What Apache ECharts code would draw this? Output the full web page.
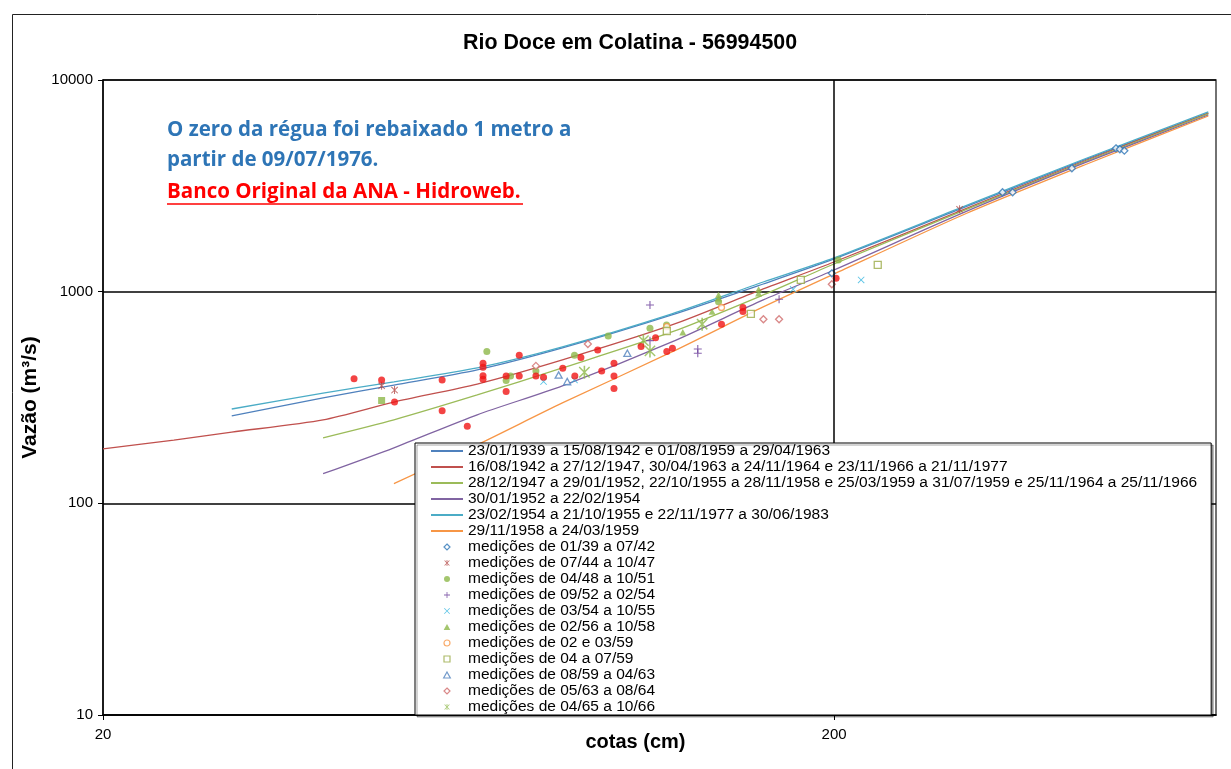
<!DOCTYPE html>
<html>
<head>
<meta charset="utf-8">
<title>Rio Doce em Colatina - 56994500</title>
<script src="https://cdn.jsdelivr.net/npm/echarts@6/dist/echarts.min.js"></script>
<style>
html, body { margin: 0; padding: 0; background: #fff; }
#chart { width: 1231px; height: 769px; }
</style>
</head>
<body>
<div id="chart"></div>
<script>
// curvas-chave: [cota (cm), vazão (m3/s)]
var curva1939 = [[30,259],[40,315],[50,362],[65,427],[85,542],[120,776],[160,1087],[200,1427],[300,2486],[440,4190],[650,6980]];
var curva1942 = [[20,181],[25,199],[30,217],[40,248],[50,301],[65,366],[85,476],[120,696],[160,1030],[200,1381],[300,2432],[440,4143],[650,6980]];
var curva1947 = [[40,204],[50,248],[65,325],[85,436],[120,645],[160,965],[200,1351],[300,2406],[440,4100],[650,6910]];
var curva1952 = [[40,138],[50,183],[65,262],[85,359],[120,579],[160,914],[200,1266],[300,2354],[440,4055],[650,6833]];
var curva1954 = [[30,279],[40,332],[50,375],[65,436],[85,548],[120,785],[160,1111],[200,1443],[300,2513],[440,4235],[650,7062]];
var curva1958 = [[50,124],[65,189],[85,298],[120,519],[160,847],[200,1212],[300,2303],[440,3967],[650,6761]];

// medições
var med3942 = [[198.6,1221],[340,2948],[351,2948],[423,3827],[486,4757],[492,4706],[499,4635]];
var med4447 = [[48.1,359],[50.1,343],[297,2451]];
var med4851 = [[67,521],[72.2,400],[71.2,380],[78.2,422],[88.3,501],[98.2,618],[112,672],[118,696],[139,897],[202.7,1411],{value:[48.1,306], symbol:'rect'}];
var med5254 = [[112,865],[112,587],[130.2,536],[130.2,512],[168.2,921]];
var med5455 = [[80.1,376],[88.3,383],[175.8,1026],[217.8,1136]];
var med5658 = [[124.2,643],[136.2,805],[139,965],[139,931],[157.7,1026],[157.7,983]];
var med0359 = [[118.1,683],[140.3,842]];
var med0759 = [[118.1,652],[153.9,785],[229.5,1337],[180.1,1136]];
var med5963 = [[84,404],[86.3,376],[104.3,512]];
var med6364 = [[78.2,446],[92.1,566],[160.1,741],[168.2,741],[198.6,1084]];
var med6566 = [[91.1,416],[109.7,587],[112,525],[132,702]];
var medOutras = [[44.1,388],[48.1,383],[50.1,301],[58.2,383],[58.2,274],[63,231],[66.2,459],[66.2,440],[66.2,401],[66.2,386],[74.2,501],[71.2,400],[71.2,338],[74.2,400],[78.2,400],[80.1,394],[85.1,435],[88.4,400],[90.1,488],[95,530],[96.2,422],[100,459],[100,400],[100,349],[108.9,550],[114,606],[118.1,521],[120.2,540],[140.3,702],[150.1,842],[150.1,805],[201.3,1157]];

var xTicks = [20, 200];

var nomesCurvas = [
    '23/01/1939 a 15/08/1942 e 01/08/1959 a 29/04/1963',
    '16/08/1942 a 27/12/1947, 30/04/1963 a 24/11/1964 e 23/11/1966 a 21/11/1977',
    '28/12/1947 a 29/01/1952, 22/10/1955 a 28/11/1958 e 25/03/1959 a 31/07/1959 e 25/11/1964 a 25/11/1966',
    '30/01/1952 a 22/02/1954',
    '23/02/1954 a 21/10/1955 e 22/11/1977 a 30/06/1983',
    '29/11/1958 a 24/03/1959'
];
var nomesMed = [
    'medições de 01/39 a 07/42',
    'medições de 07/44 a 10/47',
    'medições de 04/48 a 10/51',
    'medições de 09/52 a 02/54',
    'medições de 03/54 a 10/55',
    'medições de 02/56 a 10/58',
    'medições de 02 e 03/59',
    'medições de 04 a 07/59',
    'medições de 08/59 a 04/63',
    'medições de 05/63 a 08/64',
    'medições de 04/65 a 10/66'
];

var FONT = '"Liberation Sans", Arial, sans-serif';
var STAR = 'path://M-0.6,-5H0.6V5H-0.6Z M-4.4,-3.6L-3.6,-4.4L4.4,3.6L3.6,4.4Z M3.6,-4.4L4.4,-3.6L-3.6,4.4L-4.4,3.6Z';
var PLUS = 'path://M-0.7,-5H0.7V-0.7H5V0.7H0.7V5H-0.7V0.7H-5V-0.7H-0.7Z';
var CROSS = 'path://M-4.4,-3.6L-3.6,-4.4L4.4,3.6L3.6,4.4Z M3.6,-4.4L4.4,-3.6L-3.6,4.4L-4.4,3.6Z';
var DIAMOND = 'path://M0,-5L5,0L0,5L-5,0Z';
var TRIANGLE = 'path://M0,-5L5,4L-5,4Z';
var SQUARE = 'path://M-5,-5H5V5H-5Z';

var chart = echarts.init(document.getElementById('chart'));

function curva(name, data, color) {
    return {
        name: name, type: 'line', data: data,
        smooth: 0.25,
        symbol: 'none',
        lineStyle: { color: color, width: 1.3 },
        // transparente: esconde o marcador que a legenda desenha no meio da linha
        itemStyle: { color: 'rgba(0,0,0,0)' },
        z: 2
    };
}
function medicao(name, data, symbol, size, color, empty) {
    return {
        name: name, type: 'scatter', data: data,
        symbol: symbol, symbolSize: size, symbolKeepAspect: true,
        itemStyle: empty
            ? { color: '#fff', borderColor: color, borderWidth: 1.3 }
            : { color: color },
        z: 4
    };
}

var series = [
    curva(nomesCurvas[0], curva1939, '#4F81BD'),
    curva(nomesCurvas[1], curva1942, '#C0504D'),
    curva(nomesCurvas[2], curva1947, '#9BBB59'),
    curva(nomesCurvas[3], curva1952, '#8064A2'),
    curva(nomesCurvas[4], curva1954, '#4BACC6'),
    curva(nomesCurvas[5], curva1958, '#F79646'),
    medicao(nomesMed[0], med3942, DIAMOND, 7, '#2E75B6', true),
    medicao(nomesMed[1], med4447, STAR, 8, '#B0403D', false),
    medicao(nomesMed[2], med4851, 'circle', 7, '#8DB84A', false),
    medicao(nomesMed[3], med5254, PLUS, 8, '#6A3D9A', false),
    medicao(nomesMed[4], med5455, CROSS, 7, '#33B5E0', false),
    medicao(nomesMed[5], med5658, TRIANGLE, 7, '#8DB84A', false),
    medicao(nomesMed[6], med0359, 'circle', 6, '#F79646', true),
    medicao(nomesMed[7], med0759, SQUARE, 7, '#9AAA45', true),
    medicao(nomesMed[8], med5963, TRIANGLE, 7, '#4F81BD', true),
    medicao(nomesMed[9], med6364, DIAMOND, 7, '#D06A6A', true),
    medicao(nomesMed[10], med6566, STAR, 13, '#8DB84A', false),
    medicao('outras medições', medOutras, 'circle', 7, '#F01515', false)
];
// linha de grade vertical em 200 cm
series[0].markLine = {
    silent: true, symbol: 'none', label: { show: false },
    lineStyle: { color: '#000', width: 1.5, type: 'solid' },
    data: [{ xAxis: 200 }]
};

chart.setOption({
    animation: false,
    backgroundColor: '#fff',
    title: {
        text: 'Rio Doce em Colatina - 56994500',
        left: 463, top: 33, padding: 0,
        textStyle: { fontFamily: FONT, fontSize: 21.4, fontWeight: 'bold', color: '#000' }
    },
    grid: {
        left: 103, right: 15, top: 80, bottom: 54,
        containLabel: false, outerBoundsMode: 'none',
        show: true, borderColor: '#444', borderWidth: 1.5
    },
    legend: {
        data: nomesCurvas.concat(nomesMed),
        orient: 'vertical',
        left: 415, top: 443, z: 20,
        padding: [0, 14, 0, 15],
        itemWidth: 32, itemHeight: 6, itemGap: 0,
        selectedMode: false,
        backgroundColor: '#fff',
        borderColor: '#000', borderWidth: 1,
        shadowColor: 'rgba(0,0,0,0.35)', shadowOffsetX: 2, shadowOffsetY: 2,
        itemStyle: { borderWidth: 1.2 },
        textStyle: { fontFamily: FONT, fontSize: 15.5, color: '#000', lineHeight: 15.8 }
    },
    xAxis: {
        type: 'log', logBase: 10, min: 20, max: 666,
        name: 'cotas (cm)', nameLocation: 'middle', nameGap: 17, nameMoveOverlap: false,
        nameTextStyle: { fontFamily: FONT, fontSize: 20, fontWeight: 'bold', color: '#000', padding: [0, 48, 0, 0] },
        axisLine: { lineStyle: { color: '#000', width: 1.5 } },
        axisTick: { show: true, customValues: xTicks, length: 5, lineStyle: { color: '#000' } },
        axisLabel: { customValues: xTicks, fontFamily: FONT, fontSize: 15, color: '#000', margin: 12 },
        splitLine: { show: false }
    },
    yAxis: {
        type: 'log', logBase: 10, min: 10, max: 10000,
        name: 'Vazão (m³/s)', nameLocation: 'middle', nameGap: 56,
        nameTextStyle: { fontFamily: FONT, fontSize: 21, fontWeight: 'bold', color: '#000' },
        axisLine: { lineStyle: { color: '#000', width: 1.5 } },
        axisTick: { show: true, length: 5, lineStyle: { color: '#000' } },
        axisLabel: {
            fontFamily: FONT, fontSize: 15, color: '#000', margin: 10,
            formatter: function (v) { return String(Math.round(v)); }
        },
        splitLine: { show: true, lineStyle: { color: '#000', width: 1.5 } }
    },
    graphic: [
        { type: 'rect', left: 10, top: 12, z: -10, silent: true,
          shape: { width: 1219, height: 800 },
          style: { fill: null, stroke: '#222', lineWidth: 1 } },
        { type: 'text', left: 167, top: 115, silent: true,
          style: { text: 'O zero da régua foi rebaixado 1 metro a\npartir de 09/07/1976.', fill: '#2E75B6',
                   font: 'bold 20.5px "Open Sans", "Liberation Sans", sans-serif', lineHeight: 30 } },
        { type: 'text', left: 167, top: 177, silent: true,
          style: { text: 'Banco Original da ANA - Hidroweb.', fill: '#FF0000',
                   font: 'bold 20.5px "Open Sans", "Liberation Sans", sans-serif', lineHeight: 30 } },
        { type: 'line', silent: true,
          shape: { x1: 167, y1: 204, x2: 523, y2: 204 },
          style: { stroke: '#FF0000', lineWidth: 1.5 } }
    ],
    series: series
});
</script>
</body>
</html>
